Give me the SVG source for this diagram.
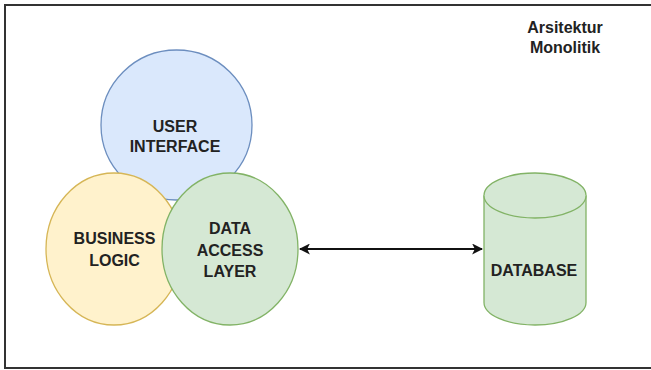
<svg xmlns="http://www.w3.org/2000/svg" width="651" height="370" viewBox="0 0 651 370">
  <style>
    .lbl { font-family: "Liberation Sans", Arial, Helvetica, sans-serif; font-size: 16px; font-weight: bold; fill: #222; text-anchor: middle; }
    .blue { fill: #dae8fc; stroke: #6c8ebf; stroke-width: 1.3; }
    .yellow { fill: #fff2cc; stroke: #d6b656; stroke-width: 1.3; }
    .green { fill: #d5e8d4; stroke: #82b366; stroke-width: 1.3; }
    .conn { stroke: #111; stroke-width: 2; fill: none; }
  </style>
  <defs>
    <marker id="arr" viewBox="0 0 10 10" refX="9" refY="5" markerWidth="5.5" markerHeight="5.5" orient="auto-start-reverse" markerUnits="strokeWidth">
      <path d="M0,0 L10,5 L0,10 L2.5,5 Z" fill="#111"/>
    </marker>
  </defs>
  <rect x="0" y="0" width="651" height="370" fill="#fff"/>
  <rect id="frame" x="5" y="5" width="670" height="363" fill="none" stroke="#333" stroke-width="2"/>

  <g id="title">
    <text class="lbl" x="565" y="33">Arsitektur</text>
    <text class="lbl" x="565" y="52.5">Monolitik</text>
  </g>

  <g id="user-interface">
    <ellipse class="blue" cx="176.5" cy="125" rx="75.5" ry="75"/>
    <text class="lbl" x="175" y="132">USER</text>
    <text class="lbl" x="175" y="152">INTERFACE</text>
  </g>

  <g id="business-logic">
    <ellipse class="yellow" cx="114" cy="249" rx="68" ry="76"/>
    <text class="lbl" x="114.5" y="244">BUSINESS</text>
    <text class="lbl" x="114.5" y="266">LOGIC</text>
  </g>

  <g id="data-access-layer">
    <ellipse class="green" cx="230" cy="249" rx="68" ry="76"/>
    <text class="lbl" x="230" y="234">DATA</text>
    <text class="lbl" x="230" y="256">ACCESS</text>
    <text class="lbl" x="230" y="277">LAYER</text>
  </g>

  <g id="database">
    <path class="green" d="M484,195.5 A51,22.5 0 0 1 586,195.5 L586,302.5 A51,22.5 0 0 1 484,302.5 Z"/>
    <path class="green" d="M484,195.5 A51,22.5 0 0 0 586,195.5" fill="none"/>
    <text class="lbl" x="534" y="276">DATABASE</text>
  </g>

  <g id="connectors">
    <line class="conn" x1="300" y1="249" x2="482" y2="249" marker-start="url(#arr)" marker-end="url(#arr)"/>
  </g>
</svg>
